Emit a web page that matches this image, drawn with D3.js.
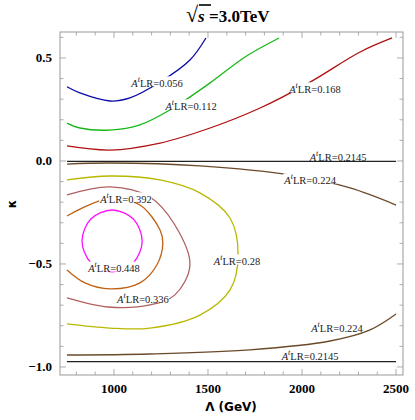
<!DOCTYPE html><html><head><meta charset="utf-8"><script src="https://cdn.jsdelivr.net/npm/d3@7"></script>
<style>body{margin:0;background:#fff}</style></head><body><svg id="c" width="415" height="420"></svg>
<script>
const xTicks=[1000,1500,2000,2500];
const yTicks=[0.5,0.0,-0.5,-1.0];
const yTickLabels=["0.5","0.0","\u22120.5","\u22121.0"];
const xTickLabels=["1000","1500","2000","2500"];
const c056=[[750,0.36],[819,0.33],[979,0.291],[1085,0.306],[1245,0.383],[1404,0.49],[1489,0.597]];
const c112=[[750,0.184],[819,0.16],[979,0.15],[1138,0.175],[1298,0.248],[1511,0.379],[1697,0.505],[1878,0.597]];
const c168=[[750,0.073],[979,0.053],[1245,0.087],[1511,0.16],[1777,0.257],[2043,0.383],[2309,0.529],[2479,0.597]];
const c2145a=[[750,-0.002],[1500,-0.002],[2500,-0.002]];
const c2145b=[[750,-0.974],[1500,-0.974],[2500,-0.974]];
const c224a=[[750,-0.015],[979,-0.01],[1457,-0.024],[1936,-0.068],[2255,-0.131],[2500,-0.214]];
const c224b=[[750,-0.942],[1191,-0.937],[1723,-0.917],[2149,-0.874],[2362,-0.82],[2500,-0.743]];
const c280=[[750,-0.092],[979,-0.073],[1245,-0.092],[1457,-0.155],[1617,-0.277],[1660,-0.456],[1617,-0.626],[1457,-0.748],[1191,-0.811],[979,-0.811],[750,-0.791]];
const c336=[[750,-0.165],[979,-0.126],[1191,-0.175],[1324,-0.311],[1404,-0.505],[1324,-0.65],[1191,-0.699],[968,-0.709],[750,-0.665]];
const c392=[[750,-0.267],[979,-0.18],[1138,-0.214],[1245,-0.335],[1260,-0.398],[1228,-0.505],[1138,-0.592],[979,-0.621],[846,-0.592],[750,-0.529]];
const c448=[[1150,-0.388],[1103,-0.282],[990,-0.238],[877,-0.282],[830,-0.388],[877,-0.494],[990,-0.538],[1103,-0.494]];
const curves=[
 {d:c056,col:"#0a0aa8"},{d:c112,col:"#18b818"},{d:c168,col:"#b01010"},
 {d:c2145a,col:"#222"},{d:c2145b,col:"#222"},{d:c224a,col:"#6b4a2a"},{d:c224b,col:"#6b4a2a"},
 {d:c280,col:"#b8b800"},{d:c336,col:"#b06060"},{d:c392,col:"#c06010"},{d:c448,col:"#ff10ff",closed:true}];
const labelVals=["0.056","0.112","0.168","0.2145","0.224","0.392","0.448","0.336","0.28","0.224","0.2145"];
const labelPos=[[1229,0.379],[1410,0.267],[2069,0.35],[2192,0.02],[2043,-0.092],[1064,-0.184],[1000,-0.52],[1154,-0.67],[1654,-0.485],[2186,-0.81],[2043,-0.947]];

const svg=d3.select("#c");
const L=60,R=403,T=32,B=375;
const x=d3.scaleLinear().domain([713,2537]).range([L,R]);
const y=d3.scaleLinear().domain([-1.039,0.626]).range([B,T]);
const serif="'Liberation Serif','DejaVu Serif',serif";
const clip=svg.append("clipPath").attr("id","cp").append("rect").attr("x",L).attr("y",T).attr("width",R-L).attr("height",B-T);
const g=svg.append("g").attr("clip-path","url(#cp)");
curves.forEach(c=>{
 const line=d3.line().x(d=>x(d[0])).y(d=>y(d[1])).curve(c.closed?d3.curveCardinalClosed:d3.curveCatmullRom);
 g.append("path").attr("d",line(c.d)).attr("fill","none").attr("stroke",c.col).attr("stroke-width",1.3);
});
labelVals.forEach((v,i)=>{
 const t=svg.append("text").attr("x",x(labelPos[i][0])).attr("y",y(labelPos[i][1])).attr("text-anchor","middle").attr("dominant-baseline","central")
  .attr("font-family",serif).attr("font-size",10.5).attr("fill","#222");
 t.append("tspan").attr("font-style","italic").text("A");
 t.append("tspan").attr("dy",-4).attr("font-size",8).attr("font-style","italic").text("t");
 t.append("tspan").attr("dy",4).text("LR="+v);
 const bb=t.node().getBBox();
 svg.insert("rect","text").attr("x",bb.x).attr("y",bb.y+2).attr("width",bb.width).attr("height",bb.height-4).attr("fill","#fff");
});
// frame
svg.append("rect").attr("x",L).attr("y",T).attr("width",R-L).attr("height",B-T).attr("fill","none").attr("stroke","#999").attr("stroke-width",1);
const ax=svg.append("g").attr("stroke","#999").attr("stroke-width",0.8);
d3.range(800,2501,100).forEach(v=>{const M=v%500===0,l=M?6:3.5;
 ax.append("line").attr("x1",x(v)).attr("x2",x(v)).attr("y1",B).attr("y2",B-l);
 ax.append("line").attr("x1",x(v)).attr("x2",x(v)).attr("y1",T).attr("y2",T+l);});
d3.range(-10,7,1).forEach(k=>{const v=k/10,M=k%5===0,l=M?6:3.5;
 ax.append("line").attr("y1",y(v)).attr("y2",y(v)).attr("x1",L).attr("x2",L+l);
 ax.append("line").attr("y1",y(v)).attr("y2",y(v)).attr("x1",R).attr("x2",R-l);});
xTicks.forEach((v,i)=>svg.append("text").attr("x",x(v)).attr("y",B+18).attr("text-anchor","middle").attr("font-family",serif).attr("font-weight","bold").attr("font-size",13).text(xTickLabels[i]));
yTicks.forEach((v,i)=>svg.append("text").attr("x",L-8).attr("y",y(v)).attr("dominant-baseline","central").attr("text-anchor","end").attr("font-family",serif).attr("font-weight","bold").attr("font-size",13).text(yTickLabels[i]));
svg.append("text").attr("x",231).attr("y",411).attr("text-anchor","middle").attr("font-family","'DejaVu Sans',sans-serif").attr("font-weight","bold").attr("font-size",12).text("Λ (GeV)");
svg.append("text").attr("transform","translate(16,204) rotate(-90)").attr("text-anchor","middle").attr("font-family","'DejaVu Sans',sans-serif").attr("font-weight","bold").attr("font-size",12).text("κ");
// title
const tt=svg.append("text").attr("x",186).attr("y",22).attr("font-family",serif).attr("font-weight","bold").attr("font-size",17);
tt.append("tspan").attr("font-size",22).text("√");
tt.append("tspan").attr("font-style","italic").text("s");
tt.append("tspan").text(" =3.0TeV");
svg.append("line").attr("x1",199).attr("x2",211).attr("y1",5).attr("y2",5).attr("stroke","#000").attr("stroke-width",1.6);
</script></body></html>
